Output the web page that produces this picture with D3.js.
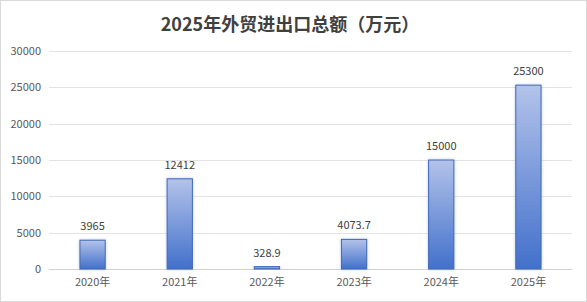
<!DOCTYPE html>
<html>
<head>
<meta charset="utf-8">
<script src="https://cdn.jsdelivr.net/npm/d3@7"></script>
<style>
  body { margin: 0; background: #fff; }
</style>
</head>
<body>
<svg id="chart" width="587" height="302"></svg>
<script>
const title = "2025年外贸进出口总额（万元）";
const years = ["2020年", "2021年", "2022年", "2023年", "2024年", "2025年"];
const totals = [3965, 12412, 328.9, 4073.7, 15000, 25300];
const yTicks = [0, 5000, 10000, 15000, 20000, 25000, 30000];

const width = 587, height = 302;
const margin = { top: 51, right: 15, bottom: 33, left: 49 };
const font = "'Noto Sans CJK SC', 'Noto Sans', sans-serif";

const svg = d3.select("#chart");

// outer frame
svg.append("rect")
  .attr("x", 0.5)
  .attr("y", 0.5)
  .attr("width", width - 1)
  .attr("height", height - 1)
  .attr("fill", "#fff")
  .attr("stroke", "#d9d9d9");

const defs = svg.append("defs");
const grad = defs.append("linearGradient")
  .attr("id", "barFill")
  .attr("x1", 0).attr("y1", 0)
  .attr("x2", 0).attr("y2", 1);
grad.append("stop").attr("offset", "0%").attr("stop-color", "#b3c3ea");
grad.append("stop").attr("offset", "100%").attr("stop-color", "#4270cb");

const shadow = defs.append("filter")
  .attr("id", "barShadow")
  .attr("x", "-30%").attr("y", "-10%")
  .attr("width", "160%").attr("height", "120%");
shadow.append("feDropShadow")
  .attr("dx", 0).attr("dy", 0)
  .attr("stdDeviation", 1.5)
  .attr("flood-color", "#8fa6d8")
  .attr("flood-opacity", 0.6);

const x = d3.scaleBand()
  .domain(years)
  .range([margin.left, width - margin.right])
  .paddingInner(0.71)
  .paddingOuter(0.355);

const y = d3.scaleLinear()
  .domain([0, 30000])
  .range([height - margin.bottom, margin.top]);

// title
svg.append("text")
  .text(title)
  .attr("x", 290)
  .attr("y", 31)
  .attr("font-family", font)
  .attr("font-weight", "bold")
  .attr("font-size", 18)
  .attr("text-anchor", "middle")
  .attr("fill", "#404040");

// gridlines
svg.append("g")
  .selectAll("line")
  .data(yTicks)
  .join("line")
  .attr("x1", margin.left)
  .attr("x2", width - margin.right)
  .attr("y1", (d) => Math.round(y(d)) + 0.5)
  .attr("y2", (d) => Math.round(y(d)) + 0.5)
  .attr("stroke", (d) => (d === 0 ? "#d0d0d0" : "#e3e3e3"))
  .attr("stroke-width", 1);

// y axis labels
const yAxis = svg.append("g")
  .attr("transform", `translate(${margin.left - 8},0)`)
  .call(d3.axisLeft(y).tickValues(yTicks).tickSize(0).tickPadding(0).tickFormat(d3.format("d")));
yAxis.select(".domain").remove();
yAxis.selectAll("text")
  .attr("font-family", font)
  .attr("font-size", 11)
  .attr("fill", "#595959");

// x axis labels
const xAxis = svg.append("g")
  .attr("transform", `translate(0,${height - margin.bottom})`)
  .call(d3.axisBottom(x).tickSize(0).tickPadding(9));
xAxis.select(".domain").remove();
xAxis.selectAll("text")
  .attr("font-family", font)
  .attr("font-size", 11)
  .attr("fill", "#595959");

// bars
svg.append("g")
  .selectAll("rect")
  .data(totals)
  .join("rect")
  .attr("x", (d, i) => x(years[i]))
  .attr("y", (d) => y(d))
  .attr("width", x.bandwidth())
  .attr("height", (d) => y(0) - y(d))
  .attr("fill", "url(#barFill)")
  .attr("stroke", "#3f68b8")
  .attr("stroke-width", 1)
  .attr("filter", "url(#barShadow)");

// value labels
svg.append("g")
  .selectAll("text")
  .data(totals)
  .join("text")
  .text((d) => d)
  .attr("x", (d, i) => x(years[i]) + x.bandwidth() / 2)
  .attr("y", (d) => y(d) - 10)
  .attr("font-family", font)
  .attr("font-size", 11)
  .attr("text-anchor", "middle")
  .attr("fill", "#404040");
</script>
</body>
</html>
